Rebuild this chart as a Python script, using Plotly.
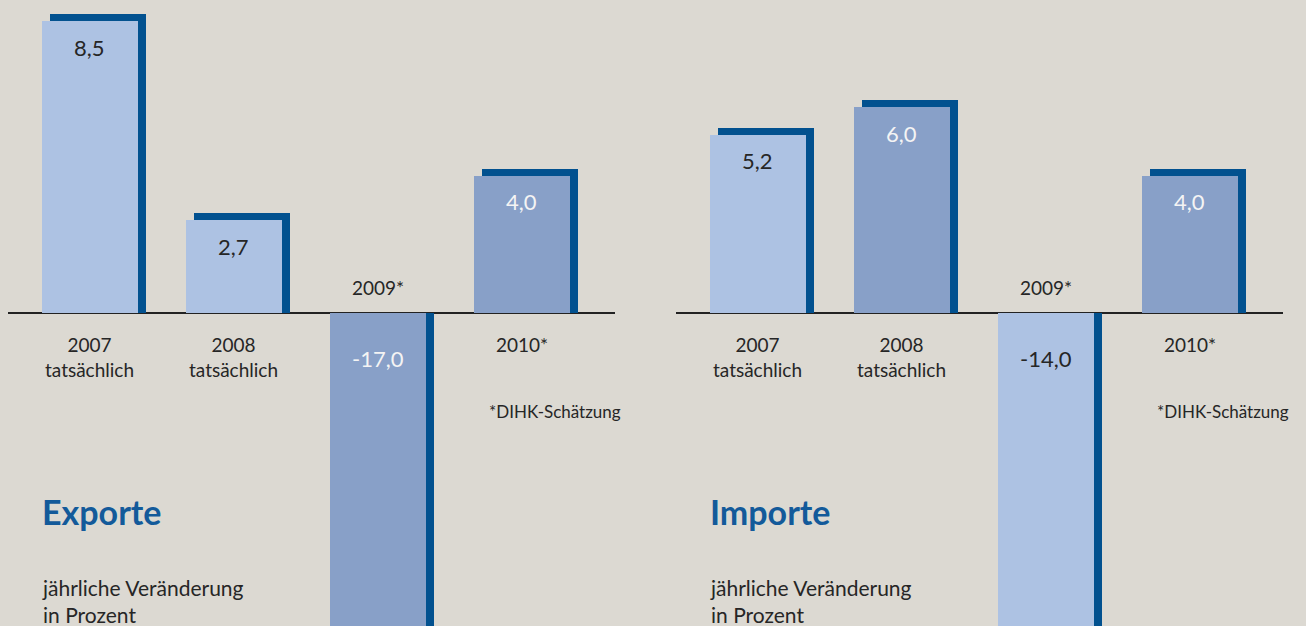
import plotly.graph_objects as go

# ---- data ----
categories = ["2007", "2008", "2009", "2010"]
cat_labels_exp = ["2007<br>tatsächlich", "2008<br>tatsächlich", "2009*", "2010*"]
cat_labels_imp = ["2007<br>tatsächlich", "2008<br>tatsächlich", "2009*", "2010*"]
exporte = [8.5, 2.7, -17.0, 4.0]
importe = [5.2, 6.0, -14.0, 4.0]
panel_titles = ["Exporte", "Importe"]
subtitle = "jährliche Veränderung<br>in Prozent"
footnote = "*DIHK-Schätzung"

# ---- style ----
BG = "#dcd9d2"
LIGHT = "#adc2e3"
MEDIUM = "#88a0c8"
SHADOW = "#02518f"
DARK = "#262626"
TITLE_BLUE = "#135a9a"
FONT = "Lato"
exp_colors = [LIGHT, LIGHT, MEDIUM, MEDIUM]
imp_colors = [LIGHT, MEDIUM, LIGHT, MEDIUM]

W, H = 1306, 626
BAR_W = 0.667
SH_DX = 0.056          # shadow shift right (category units)
SH_DY = 0.204          # shadow shift up (value units)
YR = [-9.125, 9.125]
XR = [-0.569, 3.646]

fig = go.Figure()

panels = [
    (exporte, exp_colors, cat_labels_exp, "x", "y", [8 / W, 615 / W]),
    (importe, imp_colors, cat_labels_imp, "x2", "y2", [676 / W, 1283 / W]),
]

annotations = []
for p, (vals, cols, labs, xa, ya, dom) in enumerate(panels):
    xs = list(range(len(categories)))
    shadow_vals = [v + SH_DY if v > 0 else v for v in vals]
    fig.add_trace(go.Bar(
        x=xs, y=shadow_vals, xaxis=xa, yaxis=ya,
        width=BAR_W, offset=-BAR_W / 2 + SH_DX,
        marker=dict(color=SHADOW, line=dict(width=0)),
        hoverinfo="skip", showlegend=False))
    fig.add_trace(go.Bar(
        x=xs, y=vals, xaxis=xa, yaxis=ya,
        width=BAR_W, offset=-BAR_W / 2,
        marker=dict(color=cols, line=dict(width=0)),
        showlegend=False))
    for i, v in enumerate(vals):
        txt = f"{v:.1f}".replace(".", ",")
        tcol = "#f4f4f4" if cols[i] == MEDIUM else DARK
        annotations.append(dict(
            x=i, y=v if v > 0 else 0, xref=xa, yref=ya, text=txt,
            showarrow=False, yanchor="middle",
            yshift=-26 if v > 0 else -45,
            font=dict(family=FONT, size=22, color=tcol)))
        annotations.append(dict(
            x=i, y=0, xref=xa, yref=ya, text=labs[i], showarrow=False,
            yanchor="top" if v > 0 else "bottom",
            yshift=-18 if v > 0 else 12,
            font=dict(family=FONT, size=19, color=DARK)))
    annotations.append(dict(
        x=3, y=0, xref=xa, yref=ya, text=footnote, showarrow=False,
        xshift=33, yshift=-98, yanchor="middle",
        font=dict(family=FONT, size=17, color=DARK)))
    annotations.append(dict(
        x=-0.345, y=0, xref=xa, yref=ya, text=f"<b>{panel_titles[p]}</b>",
        showarrow=False, xanchor="left", yanchor="middle", yshift=-198,
        font=dict(family=FONT, size=34, color=TITLE_BLUE)))
    annotations.append(dict(
        x=-0.345, y=0, xref=xa, yref=ya, text=subtitle,
        showarrow=False, xanchor="left", yanchor="middle", yshift=-288,
        align="left",
        font=dict(family=FONT, size=21, color=DARK)))

axis_common = dict(range=XR, showgrid=False, zeroline=False,
                   showticklabels=False, fixedrange=True)
yaxis_common = dict(range=YR, showgrid=False, zeroline=True,
                    zerolinecolor="#222222", zerolinewidth=2,
                    showticklabels=False, layer="above traces", fixedrange=True)

fig.update_layout(
    width=W, height=H,
    margin=dict(l=0, r=0, t=0, b=0),
    paper_bgcolor=BG, plot_bgcolor=BG,
    barmode="overlay", bargap=0,
    xaxis=dict(domain=panels[0][5], anchor="y", **axis_common),
    yaxis=dict(domain=[0, 1], anchor="x", **yaxis_common),
    xaxis2=dict(domain=panels[1][5], anchor="y2", **axis_common),
    yaxis2=dict(domain=[0, 1], anchor="x2", **yaxis_common),
    annotations=annotations,
    showlegend=False,
)

fig.write_html(
    "out.html",
    config={"displayModeBar": False},
    post_script="document.body.style.margin='0';document.body.style.overflow='hidden';"
                "document.body.style.background='" + BG + "';",
)
